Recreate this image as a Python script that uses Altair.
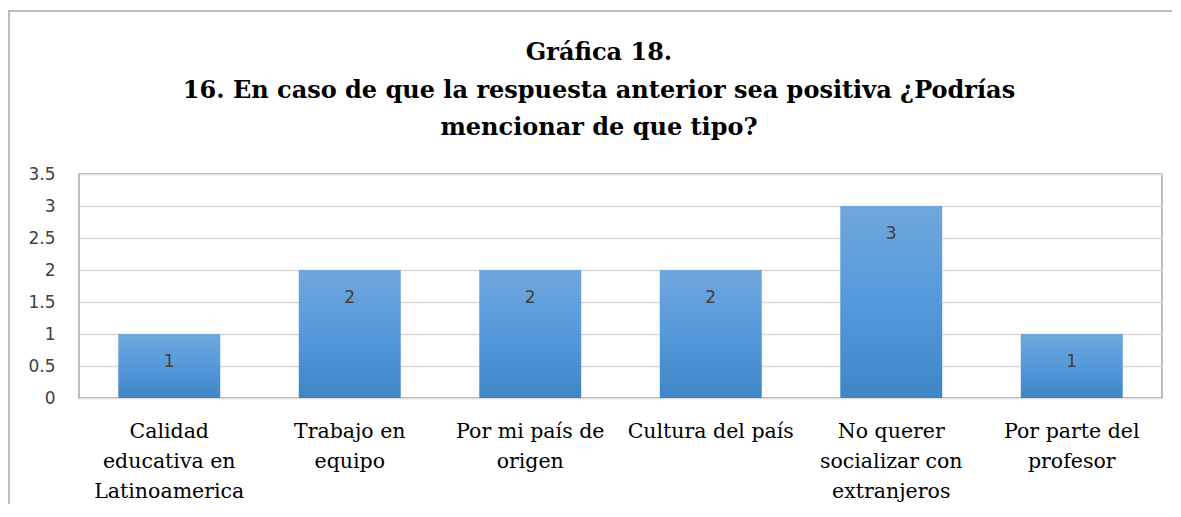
import altair as alt
import pandas as pd

categories = [
    "Calidad|educativa en|Latinoamerica",
    "Trabajo en|equipo",
    "Por mi país de|origen",
    "Cultura del país",
    "No querer|socializar con|extranjeros",
    "Por parte del|profesor",
]
values = [1, 2, 2, 2, 3, 1]
y_ticks = [0, 0.5, 1, 1.5, 2, 2.5, 3, 3.5]
title_lines = [
    "Gráfica 18.",
    "16. En caso de que la respuesta anterior sea positiva ¿Podrías",
    "mencionar de que tipo?",
]

SERIF = "DejaVu Serif"

df = pd.DataFrame({"cat": categories, "value": values})

gradient = alt.LinearGradient(
    gradient="linear",
    x1=0, y1=0, x2=0, y2=1,
    stops=[
        alt.GradientStop(color="#70a7dc", offset=0),
        alt.GradientStop(color="#5599db", offset=0.5),
        alt.GradientStop(color="#3f86c6", offset=1),
    ],
)

x_enc = alt.X(
    "cat:N",
    sort=None,
    title=None,
    scale=alt.Scale(paddingInner=0.435, paddingOuter=0.2175),
    axis=alt.Axis(
        labelExpr="split(datum.label, '|')",
        labelAngle=0,
        labelFont=SERIF,
        labelFontSize=20.5,
        labelColor="#000000",
        labelLineHeight=30,
        labelPadding=23,
        labelBaseline="top",
        ticks=False,
        domain=False,
        labelLimit=400,
    ),
)
y_enc = alt.Y(
    "value:Q",
    title=None,
    scale=alt.Scale(domain=[0, 3.5], nice=False),
    axis=alt.Axis(
        values=y_ticks,
        format="~g",
        labelFont="DejaVu Sans",
        labelFontSize=17,
        labelColor="#404040",
        labelPadding=24,
        ticks=False,
        domain=False,
        gridColor="#d9d9d9",
        gridWidth=1.5,
    ),
)

bars = alt.Chart(df).mark_bar(color=gradient).encode(x=x_enc, y=y_enc)
labels = alt.Chart(df).mark_text(
    dy=28, baseline="middle", font="DejaVu Sans", fontSize=17, color="#404040"
).encode(x=x_enc, y=y_enc, text="value:Q")

one = pd.DataFrame({"a": [0]})
frame = alt.Chart(one).mark_rect(
    fill="transparent", stroke="#a6a6a6", strokeWidth=1.5
).encode(
    x=alt.value(-70), x2=alt.value(1300), y=alt.value(-163), y2=alt.value(700)
)
title = alt.Chart(one).mark_text(
    text=title_lines,
    font=SERIF,
    fontSize=24,
    fontWeight="bold",
    color="#000000",
    lineHeight=37.5,
    align="center",
    baseline="top",
).encode(x=alt.value(520), y=alt.value(-133))

chart = alt.layer(frame, title, bars, labels).properties(
    width=1083,
    height=224,
    autosize=alt.AutoSizeParams(type="none"),
    padding={"left": 71, "top": 166, "right": 10, "bottom": 106},
).configure_view(stroke="#a6a6a6", strokeWidth=1.5)

chart.save("out.html", embed_options={"renderer": "svg", "actions": False})
